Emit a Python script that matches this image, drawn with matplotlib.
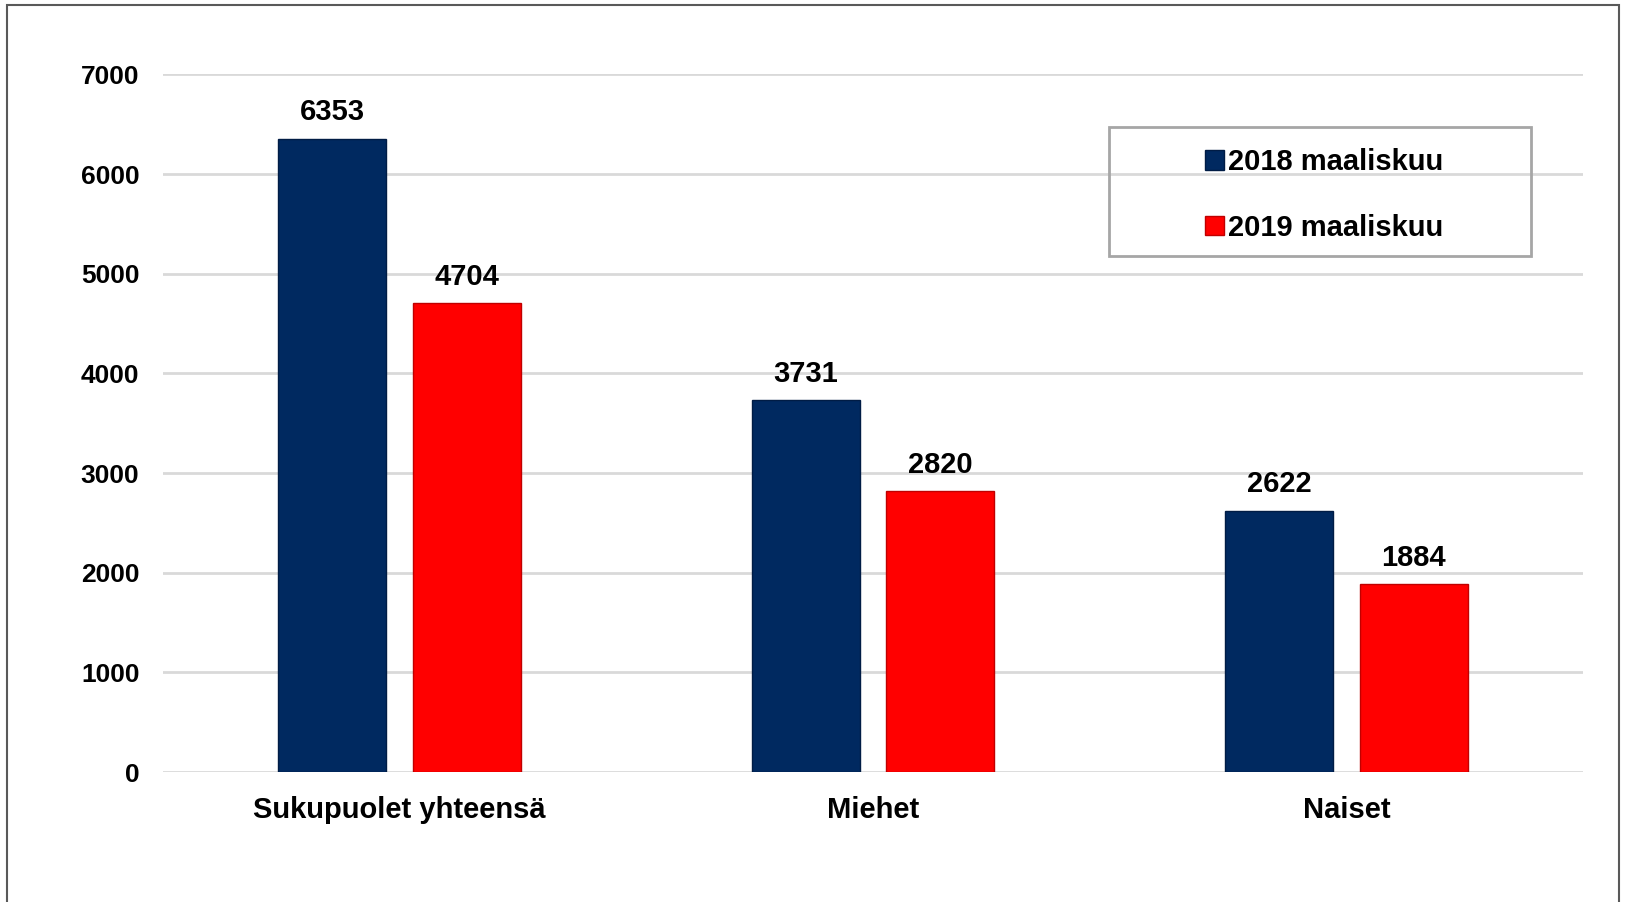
import numpy as np
import matplotlib.pyplot as plt
from matplotlib.patches import Rectangle

categories = ['Sukupuolet yhteensä', 'Miehet', 'Naiset']
series_names = ['2018 maaliskuu', '2019 maaliskuu']
values_2018 = [6353, 3731, 2622]
values_2019 = [4704, 2820, 1884]
yticks = [0, 1000, 2000, 3000, 4000, 5000, 6000, 7000]

plt.rcParams['font.family'] = ['Liberation Sans', 'DejaVu Sans']
plt.rcParams['font.weight'] = 'bold'

W, H = 1625, 902
fig = plt.figure(figsize=(W / 100, H / 100), dpi=100)
ax = fig.add_axes([163 / W, 1 - 772 / H, (1583 - 163) / W, (772 - 74.5) / H])

x = np.arange(len(categories))
bw = 0.228
off = 0.142
b1 = ax.bar(x - off, values_2018, bw, color='#002960', edgecolor='#001c45',
            linewidth=1, label=series_names[0], zorder=3)
b2 = ax.bar(x + off, values_2019, bw, color='#ff0000', edgecolor='#c00000',
            linewidth=1, label=series_names[1], zorder=3)

for bars in (b1, b2):
    for r in bars:
        ax.annotate(f'{int(r.get_height())}',
                    (r.get_x() + r.get_width() / 2, r.get_height()),
                    xytext=(0, 9), textcoords='offset points',
                    ha='center', va='bottom', fontsize=21, fontweight='bold')

ax.set_xlim(-0.5, 2.5)
ax.set_ylim(0, 7000)
ax.set_yticks(yticks)
ax.set_yticklabels([str(t) for t in yticks], fontsize=19, fontweight='bold')
ax.set_xticks(x)
ax.set_xticklabels(categories, fontsize=21, fontweight='bold')
ax.tick_params(axis='y', length=0, pad=17)
ax.tick_params(axis='x', length=0, pad=17)
ax.grid(axis='y', color='#d9d9d9', linewidth=2, zorder=0)
ax.set_axisbelow(True)
for s in ax.spines.values():
    s.set_visible(False)

# legend (content) + its wide box
leg = ax.legend(loc='center left',
                bbox_to_anchor=((1205 - 163) / 1420, 1 - (195 - 74.5) / 697.5),
                prop={'weight': 'bold', 'size': 21},
                handlelength=0.65, handleheight=0.65, handletextpad=0.15,
                labelspacing=1.28, borderpad=0, frameon=False, borderaxespad=0)
fig.patches.append(Rectangle((1109 / W, 1 - 256 / H), (1531 - 1109) / W, (256 - 127) / H,
                             transform=fig.transFigure, fill=False,
                             edgecolor='#a6a6a6', linewidth=2, zorder=5))

# outer frame
fig.patches.append(Rectangle((7 / W, -0.05), (1619 - 7) / W, 1 - 5 / H + 0.05,
                             transform=fig.transFigure, fill=False,
                             edgecolor='#595959', linewidth=1.5))

fig.savefig('out.png', dpi=100)
